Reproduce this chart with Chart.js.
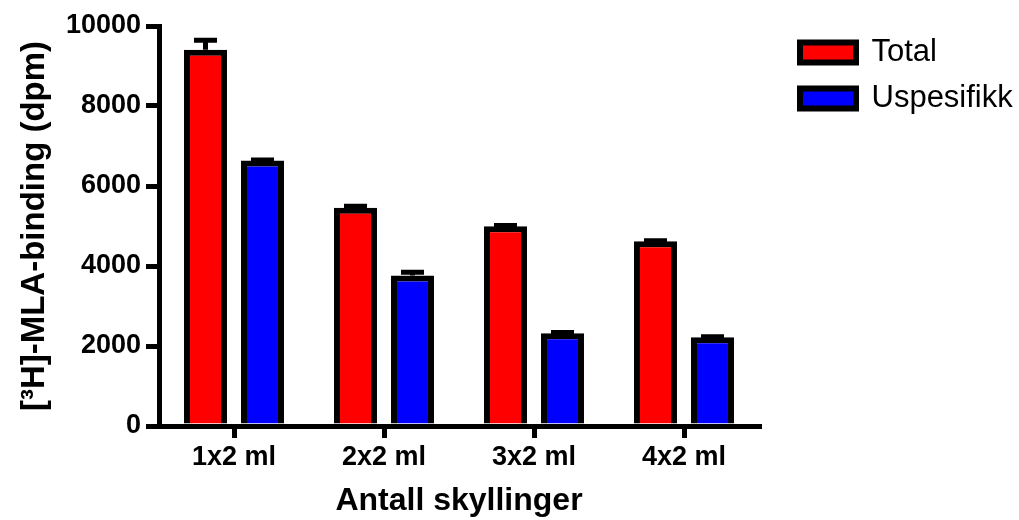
<!DOCTYPE html>
<html>
<head>
<meta charset="utf-8">
<title>MLA-binding</title>
<script src="https://cdn.jsdelivr.net/npm/chart.js@4"></script>
<style>
  body { margin: 0; background: #fff; }
  #wrap { width: 1019px; height: 520px; }
</style>
</head>
<body>
<div id="wrap"><canvas id="myChart"></canvas></div>
<script>
//Datos del grafico
const categorias = ['1x2 ml', '2x2 ml', '3x2 ml', '4x2 ml'];
const total = [9405, 5455, 4995, 4620];
const totalErr = [240, 40, 20, 10];
const uspesifikk = [6637, 3763, 2320, 2220];
const uspesifikkErr = [10, 80, 15, 10];
const yTicks = [0, 2000, 4000, 6000, 8000, 10000];

const fuente = "'Liberation Sans', Arial, sans-serif";
Chart.defaults.color = '#000';
Chart.defaults.font.family = fuente;

//barras de error (solo hacia arriba, con tapa)
const errorBars = {
    id: 'errorBars',
    afterDatasetsDraw(chart) {
        const ctx = chart.ctx;
        const y = chart.scales.y;
        chart.data.datasets.forEach((ds, i) => {
            const meta = chart.getDatasetMeta(i);
            meta.data.forEach((bar, j) => {
                const top = y.getPixelForValue(ds.data[j] + ds.errors[j]);
                ctx.save();
                ctx.strokeStyle = '#000';
                ctx.lineWidth = 5;
                ctx.beginPath();
                ctx.moveTo(bar.x, bar.y);
                ctx.lineTo(bar.x, top);
                ctx.moveTo(bar.x - 11.5, top);
                ctx.lineTo(bar.x + 11.5, top);
                ctx.stroke();
                ctx.restore();
            });
        });
    }
};

//leyenda a la derecha, separada del eje
const legendPlace = {
    id: 'legendPlace',
    beforeInit(chart) {
        const fit = chart.legend.fit;
        chart.legend.fit = function () {
            fit.call(this);
            this.width = 260;
        };
    },
    afterLayout(chart) {
        chart.legend.left = 785;
        chart.legend.top = 22;
    }
};

let ctx = document.getElementById('myChart').getContext('2d');
let myChart = new Chart(ctx, {
    type: 'bar',
    data: {
        labels: categorias,
        datasets: [{
            label: 'Total',
            data: total,
            errors: totalErr,
            backgroundColor: '#ff0000',
            borderColor: '#000',
            borderWidth: 6
        }, {
            label: 'Uspesifikk',
            data: uspesifikk,
            errors: uspesifikkErr,
            backgroundColor: '#0000ff',
            borderColor: '#000',
            borderWidth: 6
        }]
    },
    options: {
        responsive: true,
        maintainAspectRatio: false,
        animation: false,
        categoryPercentage: 0.76,
        barPercentage: 0.754,
        layout: { padding: { top: 26, left: 0, right: 0, bottom: 0 } },
        plugins: {
            tooltip: { enabled: false },
            legend: {
                position: 'right',
                align: 'start',
                labels: {
                    boxWidth: 56,
                    boxHeight: 20,
                    padding: 15,
                    color: '#000',
                    font: { size: 31, family: fuente }
                }
            }
        },
        scales: {
            x: {
                z: 1,
                grid: {
                    offset: false,
                    drawOnChartArea: false,
                    drawTicks: true,
                    tickLength: 12,
                    lineWidth: 5,
                    color: '#000'
                },
                border: { display: true, width: 5, color: '#000' },
                ticks: {
                    padding: 3,
                    color: '#000',
                    font: { size: 27, weight: 'bold' }
                },
                title: {
                    display: true,
                    text: 'Antall skyllinger',
                    color: '#000',
                    padding: { top: 0, bottom: 0 },
                    font: { size: 32, weight: 'bold' }
                },
                afterFit(scale) { scale.height = 94; }
            },
            y: {
                min: 0,
                max: 10000,
                afterBuildTicks(scale) {
                    scale.ticks = yTicks.map(v => ({ value: v }));
                },
                grid: {
                    drawOnChartArea: false,
                    drawTicks: true,
                    tickLength: 13,
                    lineWidth: 5,
                    color: '#000'
                },
                border: { display: true, width: 5, color: '#000' },
                ticks: {
                    padding: 5,
                    color: '#000',
                    font: { size: 27, weight: 'bold' },
                    callback: v => String(v)
                },
                title: {
                    display: true,
                    text: '[³H]-MLA-binding (dpm)',
                    color: '#000',
                    padding: { top: 15, bottom: 0 },
                    font: { size: 33, weight: 'bold' }
                },
                afterFit(scale) { scale.width = 159; }
            }
        }
    },
    plugins: [errorBars, legendPlace]
});
</script>
</body>
</html>
